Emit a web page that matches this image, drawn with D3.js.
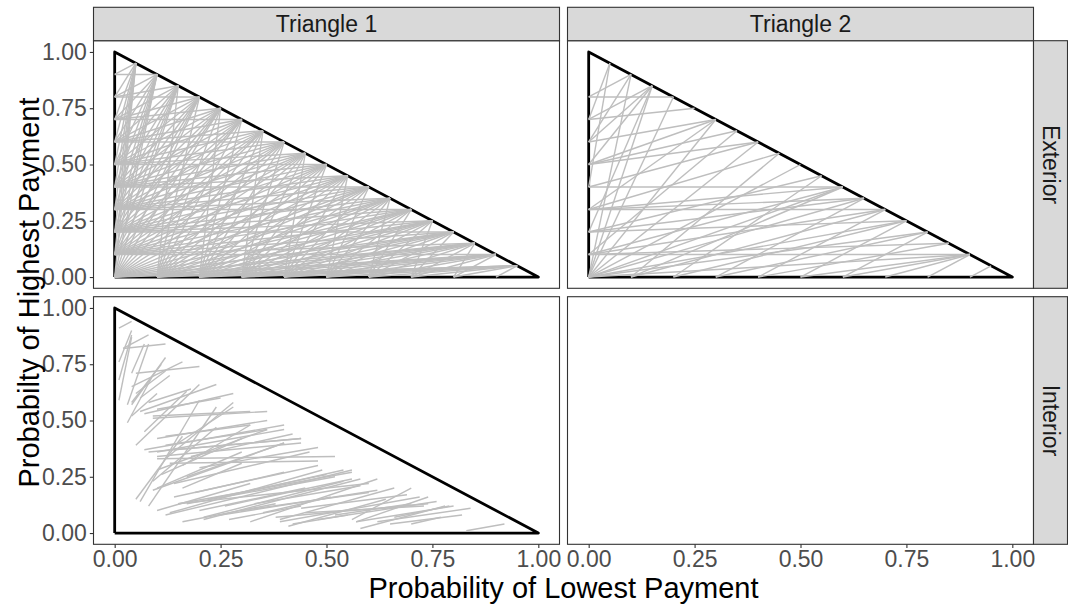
<!DOCTYPE html>
<html lang="en">
<head>
  <meta charset="UTF-8">
  <title>Probability triangles</title>
  <script src="https://d3js.org/d3.v7.min.js"></script>
  <style>
    body { margin: 0; background: #fff; }
    text { font-family: "Liberation Sans", Arial, sans-serif; }
  </style>
</head>
<body>
  <div id="chart"></div>

  <script>
    // facet labels
    const colLabels = ["Triangle 1", "Triangle 2"];
    const rowLabels = ["Exterior", "Interior"];
    const tickValues = [0, 0.25, 0.5, 0.75, 1];

    // outline of the probability triangle
    const triangle = [[0, 0], [0, 1], [1, 0], [0, 0]];

    // Triangle 1 / Exterior: left edge point (0, y) -> list of hypotenuse x (point at x, 1-x)
    const t1ExtLeft = [
      [0.0, [0.05, 0.10, 0.15, 0.20, 0.25, 0.30, 0.35, 0.40, 0.45, 0.50, 0.55, 0.60, 0.65, 0.70, 0.75, 0.80, 0.85, 0.90, 0.95]],
      [0.1, [0.05, 0.10, 0.15, 0.20, 0.25, 0.30, 0.35, 0.40, 0.45, 0.50, 0.55, 0.60, 0.65, 0.70, 0.75, 0.80, 0.85, 0.90]],
      [0.2, [0.05, 0.10, 0.15, 0.20, 0.25, 0.30, 0.35, 0.40, 0.45, 0.50, 0.55, 0.60, 0.65, 0.70, 0.75, 0.80]],
      [0.3, [0.05, 0.10, 0.15, 0.20, 0.25, 0.30, 0.35, 0.40, 0.45, 0.50, 0.55, 0.60, 0.65, 0.70]],
      [0.4, [0.05, 0.10, 0.15, 0.20, 0.25, 0.30, 0.35, 0.40, 0.45, 0.50, 0.55, 0.60]],
      [0.5, [0.05, 0.10, 0.15, 0.20, 0.25, 0.30, 0.35, 0.40, 0.45, 0.50]],
      [0.6, [0.05, 0.10, 0.15, 0.20, 0.25, 0.30, 0.35, 0.40]],
      [0.7, [0.05, 0.10, 0.15, 0.20, 0.25, 0.30]],
      [0.8, [0.05, 0.10, 0.15, 0.20]],
      [0.9, [0.05, 0.10]]
    ];
    // Triangle 1 / Exterior: bottom edge point (x, 0) -> list of hypotenuse x
    const t1ExtBottom = [
      [0.1, [0.15, 0.20, 0.25, 0.30, 0.35, 0.40, 0.45, 0.50, 0.55, 0.60, 0.65, 0.70, 0.75, 0.80, 0.85, 0.90, 0.95]],
      [0.2, [0.25, 0.30, 0.35, 0.40, 0.45, 0.50, 0.55, 0.60, 0.65, 0.70, 0.75, 0.80, 0.85, 0.90, 0.95]],
      [0.3, [0.35, 0.40, 0.45, 0.50, 0.55, 0.60, 0.65, 0.70, 0.75, 0.80, 0.85, 0.90, 0.95]],
      [0.4, [0.45, 0.50, 0.55, 0.60, 0.65, 0.70, 0.75, 0.80, 0.85, 0.90, 0.95]],
      [0.5, [0.55, 0.60, 0.65, 0.70, 0.75, 0.80, 0.85, 0.90, 0.95]],
      [0.6, [0.65, 0.70, 0.75, 0.80, 0.85, 0.90, 0.95]],
      [0.7, [0.75, 0.80, 0.85, 0.90, 0.95]],
      [0.8, [0.85, 0.90, 0.95]],
      [0.9, [0.95]]
    ];

    // Triangle 2 / Exterior: [x1, y1, x2, y2]
    const t2Ext = [
      [0, 0.8, 0.10, 0.90], [0, 0.8, 0.20, 0.80], [0, 0.7, 0.15, 0.85], [0, 0.7, 0.25, 0.75],
      [0, 0.7, 0.05, 0.95], [0, 0.6, 0.15, 0.85], [0, 0.6, 0.30, 0.70], [0, 0.6, 0.10, 0.90],
      [0, 0.5, 0.15, 0.85], [0, 0.5, 0.30, 0.70], [0, 0.5, 0.35, 0.65], [0, 0.5, 0.40, 0.60],
      [0, 0.4, 0.40, 0.60], [0, 0.4, 0.60, 0.40], [0, 0.4, 0.05, 0.95], [0, 0.3, 0.45, 0.55],
      [0, 0.3, 0.60, 0.40], [0, 0.3, 0.65, 0.35], [0, 0.3, 0.70, 0.30], [0, 0.3, 0.30, 0.70],
      [0, 0.2, 0.55, 0.45], [0, 0.2, 0.65, 0.35], [0, 0.2, 0.75, 0.25], [0, 0.2, 0.15, 0.85],
      [0, 0.1, 0.60, 0.40], [0, 0.1, 0.70, 0.30], [0, 0.1, 0.85, 0.15], [0, 0.1, 0.90, 0.10],
      [0, 0.1, 0.35, 0.65], [0, 0.0, 0.10, 0.90], [0, 0.0, 0.15, 0.85], [0, 0.0, 0.30, 0.70],
      [0, 0.0, 0.40, 0.60], [0, 0.0, 0.50, 0.50], [0, 0.0, 0.60, 0.40], [0, 0.0, 0.65, 0.35],
      [0, 0.0, 0.75, 0.25], [0, 0.0, 0.80, 0.20], [0, 0.0, 0.90, 0.10], [0, 0.0, 0.20, 0.80],
      [0.1, 0, 0.60, 0.40], [0.1, 0, 0.70, 0.30], [0.1, 0, 0.45, 0.55], [0.2, 0, 0.55, 0.45],
      [0.2, 0, 0.75, 0.25], [0.3, 0, 0.65, 0.35], [0.3, 0, 0.80, 0.20], [0.4, 0, 0.70, 0.30],
      [0.4, 0, 0.85, 0.15], [0.5, 0, 0.75, 0.25], [0.5, 0, 0.90, 0.10], [0.6, 0, 0.90, 0.10],
      [0.6, 0, 0.80, 0.20], [0.7, 0, 0.90, 0.10], [0.8, 0, 0.90, 0.10], [0.9, 0, 0.95, 0.05]
    ];

    // Triangle 1 / Interior: [x1, y1, x2, y2]
    const t1Int = [
      [0.01, 0.91, 0.04, 0.94], [0.01, 0.76, 0.04, 0.90], [0.01, 0.68, 0.04, 0.88], [0.01, 0.59, 0.04, 0.87],
      [0.02, 0.82, 0.08, 0.88], [0.02, 0.82, 0.12, 0.84], [0.03, 0.57, 0.08, 0.84], [0.04, 0.71, 0.07, 0.84],
      [0.05, 0.71, 0.20, 0.74], [0.04, 0.65, 0.16, 0.76], [0.04, 0.57, 0.12, 0.78], [0.04, 0.58, 0.11, 0.75],
      [0.03, 0.49, 0.09, 0.70], [0.05, 0.62, 0.12, 0.72], [0.06, 0.54, 0.24, 0.66], [0.07, 0.53, 0.28, 0.62],
      [0.09, 0.51, 0.36, 0.54], [0.09, 0.52, 0.32, 0.54], [0.05, 0.39, 0.20, 0.66], [0.04, 0.52, 0.10, 0.62],
      [0.06, 0.60, 0.13, 0.70], [0.08, 0.58, 0.18, 0.64], [0.10, 0.55, 0.25, 0.60], [0.07, 0.45, 0.17, 0.63],
      [0.07, 0.37, 0.40, 0.48], [0.10, 0.42, 0.36, 0.50], [0.08, 0.36, 0.44, 0.42], [0.10, 0.34, 0.44, 0.40],
      [0.10, 0.33, 0.52, 0.34], [0.13, 0.31, 0.48, 0.32], [0.10, 0.36, 0.40, 0.46], [0.12, 0.39, 0.36, 0.46],
      [0.14, 0.37, 0.44, 0.42], [0.05, 0.15, 0.16, 0.43], [0.06, 0.14, 0.20, 0.59], [0.08, 0.12, 0.24, 0.56],
      [0.09, 0.19, 0.40, 0.40], [0.10, 0.28, 0.36, 0.46], [0.12, 0.33, 0.28, 0.58], [0.09, 0.23, 0.24, 0.47],
      [0.16, 0.30, 0.32, 0.48], [0.12, 0.43, 0.32, 0.48], [0.17, 0.25, 0.40, 0.40], [0.15, 0.40, 0.28, 0.56],
      [0.20, 0.29, 0.48, 0.38], [0.11, 0.26, 0.30, 0.42], [0.14, 0.22, 0.46, 0.36], [0.18, 0.34, 0.42, 0.44],
      [0.10, 0.20, 0.30, 0.36],
      [0.10, 0.10, 0.32, 0.22], [0.13, 0.09, 0.49, 0.28], [0.12, 0.08, 0.56, 0.28], [0.15, 0.13, 0.56, 0.27],
      [0.15, 0.13, 0.60, 0.22], [0.16, 0.05, 0.38, 0.13], [0.21, 0.07, 0.54, 0.23], [0.21, 0.06, 0.58, 0.24],
      [0.32, 0.05, 0.62, 0.24], [0.39, 0.06, 0.66, 0.20], [0.41, 0.03, 0.64, 0.15], [0.39, 0.05, 0.72, 0.16],
      [0.56, 0.06, 0.70, 0.20], [0.57, 0.05, 0.74, 0.16], [0.58, 0.02, 0.78, 0.12], [0.65, 0.04, 0.82, 0.08],
      [0.57, 0.05, 0.80, 0.12], [0.83, 0.01, 0.92, 0.04], [0.38, 0.07, 0.74, 0.13], [0.45, 0.09, 0.73, 0.12],
      [0.17, 0.13, 0.52, 0.25], [0.20, 0.10, 0.45, 0.20], [0.14, 0.16, 0.48, 0.30], [0.25, 0.08, 0.62, 0.19],
      [0.26, 0.12, 0.56, 0.24], [0.22, 0.15, 0.50, 0.26], [0.30, 0.10, 0.60, 0.18], [0.33, 0.13, 0.58, 0.21],
      [0.27, 0.06, 0.44, 0.12], [0.44, 0.11, 0.69, 0.17], [0.48, 0.06, 0.76, 0.14], [0.62, 0.05, 0.84, 0.11],
      [0.66, 0.07, 0.79, 0.12], [0.35, 0.09, 0.51, 0.16], [0.19, 0.18, 0.40, 0.27], [0.16, 0.20, 0.30, 0.31],
      [0.28, 0.17, 0.54, 0.28], [0.52, 0.08, 0.70, 0.13], [0.70, 0.04, 0.77, 0.07], [0.42, 0.04, 0.55, 0.08]
    ];

    // flatten the edge-to-hypotenuse tables into segments
    function fromEdge(table, onLeft) {
      const out = [];
      table.forEach(([p, hyps]) => hyps.forEach(h => {
        out.push(onLeft ? [0, p, h, 1 - h] : [p, 0, h, 1 - h]);
      }));
      return out;
    }
    const t1Ext = fromEdge(t1ExtLeft, true).concat(fromEdge(t1ExtBottom, false));

    const panels = [
      { row: 0, col: 0, segs: t1Ext, tri: true },
      { row: 0, col: 1, segs: t2Ext, tri: true },
      { row: 1, col: 0, segs: t1Int, tri: true },
      { row: 1, col: 1, segs: [], tri: false }
    ];

    // layout
    const W = 1068, H = 606;
    const colX = [93.5, 567.5], panelW = 466;
    const rowY = [40.7, 296.7], panelH = 247.6;
    const stripH = 33.4, stripW = 34;

    const svg = d3.select("#chart").append("svg")
      .attr("width", W).attr("height", H);
    svg.append("rect").attr("width", W).attr("height", H).attr("fill", "#fff");

    const x = d3.scaleLinear().domain([-0.05, 1.05]).range([0, panelW]);
    const y = d3.scaleLinear().domain([-0.05, 1.05]).range([panelH, 0]);
    const line = d3.line().x(d => x(d[0])).y(d => y(d[1]));

    panels.forEach(p => {
      const g = svg.append("g")
        .attr("transform", `translate(${colX[p.col]},${rowY[p.row]})`);

      if (p.tri) {
        g.append("path")
          .attr("d", line(triangle))
          .attr("fill", "none")
          .attr("stroke", "#000")
          .attr("stroke-width", 2.8)
          .attr("stroke-linejoin", "round");
      }

      g.selectAll("line.seg")
        .data(p.segs)
        .enter().append("line")
          .attr("class", "seg")
          .attr("x1", d => x(d[0])).attr("y1", d => y(d[1]))
          .attr("x2", d => x(d[2])).attr("y2", d => y(d[3]))
          .attr("stroke", "#bebebe")
          .attr("stroke-width", 1.4);

      g.append("rect")
        .attr("width", panelW).attr("height", panelH)
        .attr("fill", "none").attr("stroke", "#333").attr("stroke-width", 1.1);

      if (p.col === 0) {
        const ax = g.append("g")
          .call(d3.axisLeft(y).tickValues(tickValues).tickFormat(d3.format(".2f"))
            .tickSize(3.7).tickSizeOuter(0).tickPadding(3));
        ax.select(".domain").remove();
        ax.selectAll("line").attr("stroke", "#333").attr("stroke-width", 1.1);
        ax.selectAll("text").attr("fill", "#4d4d4d").style("font-size", "23px")
          .style("font-family", "'Liberation Sans', Arial, sans-serif");
      }
      if (p.row === 1) {
        const ax = g.append("g")
          .attr("transform", `translate(0,${panelH})`)
          .call(d3.axisBottom(x).tickValues(tickValues).tickFormat(d3.format(".2f"))
            .tickSize(3.7).tickSizeOuter(0).tickPadding(3));
        ax.select(".domain").remove();
        ax.selectAll("line").attr("stroke", "#333").attr("stroke-width", 1.1);
        ax.selectAll("text").attr("fill", "#4d4d4d").style("font-size", "23px")
          .style("font-family", "'Liberation Sans', Arial, sans-serif");
      }
    });

    // column strips
    colLabels.forEach((lab, i) => {
      svg.append("rect")
        .attr("x", colX[i]).attr("y", rowY[0] - stripH)
        .attr("width", panelW).attr("height", stripH)
        .attr("fill", "#d9d9d9").attr("stroke", "#333").attr("stroke-width", 1.1);
      svg.append("text")
        .attr("x", colX[i] + panelW / 2).attr("y", rowY[0] - stripH / 2)
        .attr("text-anchor", "middle").attr("dominant-baseline", "central")
        .attr("fill", "#1a1a1a").style("font-size", "23px")
        .text(lab);
    });

    // row strips
    const stripX = colX[1] + panelW;
    rowLabels.forEach((lab, i) => {
      svg.append("rect")
        .attr("x", stripX).attr("y", rowY[i])
        .attr("width", stripW).attr("height", panelH)
        .attr("fill", "#d9d9d9").attr("stroke", "#333").attr("stroke-width", 1.1);
      const cx = stripX + stripW / 2, cy = rowY[i] + panelH / 2;
      svg.append("text")
        .attr("transform", `translate(${cx},${cy}) rotate(90)`)
        .attr("text-anchor", "middle").attr("dominant-baseline", "central")
        .attr("fill", "#1a1a1a").style("font-size", "23px")
        .text(lab);
    });

    // axis titles
    svg.append("text")
      .attr("x", (colX[0] + colX[1] + panelW) / 2).attr("y", 598)
      .attr("text-anchor", "middle").attr("fill", "#000")
      .style("font-size", "29px")
      .text("Probability of Lowest Payment");

    svg.append("text")
      .attr("transform", `translate(39,${(rowY[0] + rowY[1] + panelH) / 2}) rotate(-90)`)
      .attr("text-anchor", "middle").attr("fill", "#000")
      .style("font-size", "29px")
      .text("Probabilty of Highest Payment");
  </script>
</body>
</html>
